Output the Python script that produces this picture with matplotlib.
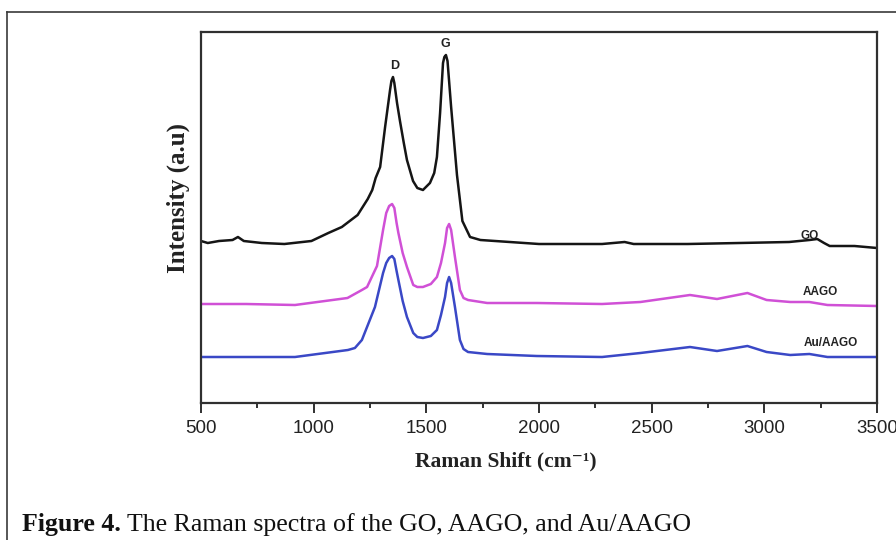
import matplotlib
matplotlib.use("Agg")
import matplotlib.pyplot as plt
from matplotlib.lines import Line2D
from matplotlib.ticker import MultipleLocator

# ---- data ----
go_x = [500, 530, 580, 640, 664, 690, 770, 870, 990, 1065, 1125, 1195, 1240, 1260, 1275, 1295,
        1317, 1339, 1345, 1352, 1358, 1370, 1383, 1400, 1414, 1441, 1460, 1485, 1516, 1535,
        1547, 1561, 1574, 1580, 1587, 1594, 1610, 1636, 1660, 1694, 1740, 2000, 2280, 2380,
        2420, 2660, 2890, 3110, 3200, 3235, 3265, 3290, 3400, 3500]
go_y = [162, 160, 162, 163, 166, 162, 160, 159, 162, 170, 176, 188, 204, 213, 225, 236,
        276, 313, 322, 326, 320, 300, 282, 260, 243, 222, 215, 213, 220, 230,
        246, 290, 340, 346, 348, 342, 296, 228, 182, 166, 163, 159, 159, 161,
        159, 159, 160, 161, 163, 164, 160, 157, 157, 155]

aago_x = [500, 700, 917, 1150, 1214, 1237, 1281, 1308, 1322, 1335, 1348, 1358, 1368, 1376,
          1395, 1414, 1442, 1460, 1485, 1520, 1547, 1565, 1583, 1592, 1601, 1610, 1627, 1649,
          1665, 1685, 1770, 1990, 2280, 2450, 2670, 2790, 2925, 3010, 3115, 3200, 3280, 3500]
aago_y = [99, 99, 98, 105, 113, 116, 137, 173, 190, 197, 199, 195, 180, 170,
          150, 136, 118, 116, 116, 119, 126, 140, 160, 175, 179, 173, 146, 113,
          105, 103, 100, 100, 99, 101, 108, 104, 110, 103, 101, 101, 98, 97]

au_x = [500, 700, 917, 1152, 1183, 1214, 1272, 1308, 1322, 1335, 1348, 1358, 1368, 1376,
        1395, 1414, 1442, 1460, 1485, 1520, 1547, 1565, 1583, 1592, 1601, 1610, 1627, 1649,
        1665, 1685, 1770, 1990, 2280, 2450, 2670, 2790, 2925, 3010, 3115, 3200, 3280, 3500]
au_y = [46, 46, 46, 53, 55, 63, 96, 130, 140, 145, 147, 144, 132, 123,
        102, 86, 70, 66, 65, 67, 73, 88, 106, 120, 126, 120, 96, 63,
        54, 51, 49, 47, 46, 50, 56, 52, 57, 51, 48, 49, 46, 46]

series = [("GO", go_x, go_y, "#151515"),
          ("AAGO", aago_x, aago_y, "#d050d6"),
          ("Au/AAGO", au_x, au_y, "#3a48c6")]

peak_labels = ["D", "G"]
peak_pos = [(1361, 336), (1583, 358)]
curve_labels = ["GO", "AAGO", "Au/AAGO"]
curve_label_pos = [(3202, 167), (3247, 111), (3296, 60)]

xticks = [500, 1000, 1500, 2000, 2500, 3000, 3500]

# ---- figure ----
W, H = 896, 540
fig = plt.figure(figsize=(W / 100, H / 100), dpi=100)
fig.patch.set_facecolor("white")

# outer frame of the figure panel
fig.add_artist(Line2D([7 / W, 7 / W], [0, 1 - 12 / H], transform=fig.transFigure,
                      color="#3a3a3a", lw=1.2))
fig.add_artist(Line2D([7 / W, 1], [1 - 12 / H, 1 - 12 / H], transform=fig.transFigure,
                      color="#3a3a3a", lw=1.2))

ax = fig.add_axes([201 / W, 1 - 403 / H, (877 - 201) / W, (403 - 32) / H])
for name, xs, ys, c in series:
    ax.plot(xs, ys, color=c, lw=1.8, solid_joinstyle="round")

ax.set_xlim(500, 3500)
ax.set_ylim(0, 371)
ax.set_xticks(xticks)
ax.set_xticklabels([str(t) for t in xticks])
ax.xaxis.set_minor_locator(MultipleLocator(250))
ax.set_yticks([])
for s in ax.spines.values():
    s.set_linewidth(1.6)
    s.set_color("#303030")
ax.tick_params(axis="x", which="major", direction="out", length=7, width=1.4,
               color="#303030", pad=5, labelsize=13.5)
ax.tick_params(axis="x", which="minor", direction="out", length=3.5, width=1.4,
               color="#303030")
for lab in ax.get_xticklabels():
    lab.set_fontfamily("Liberation Sans")
    lab.set_color("#222222")

ax.set_xlabel("Raman Shift (cm\u207b\u00b9)", fontfamily=["Liberation Serif", "DejaVu Serif"],
              fontweight="bold", fontsize=15.5, color="#222222", labelpad=7)
ax.xaxis.set_label_coords((506 - 201) / 676, -(461 - 403) / 371)
ax.xaxis.label.set_va("center")
ax.set_ylabel("Intensity (a.u)", fontfamily="Liberation Serif", fontweight="bold",
              fontsize=18, color="#222222")
ax.yaxis.set_label_coords(-(201 - 178) / 676, (403 - 198) / 371)
ax.yaxis.label.set_va("center")

for t, (x, y) in zip(peak_labels, peak_pos):
    ax.text(x, y - 5, t, ha="center", va="bottom", fontsize=9, fontweight="bold",
            fontfamily="Liberation Sans", color="#222222")
for t, (x, y) in zip(curve_labels, curve_label_pos):
    ax.text(x, y, t, ha="center", va="center", fontsize=8.5, fontweight="bold",
            fontfamily="Liberation Sans", color="#222222")

# caption
t1 = fig.text(22 / W, 1 - 531 / H, "Figure 4.", fontfamily="Liberation Serif",
              fontweight="bold", fontsize=18.6, color="#111111", va="baseline")
fig.canvas.draw()
ax.annotate(" The Raman spectra of the GO, AAGO, and Au/AAGO", xy=(1, 0), xycoords=t1,
            va="bottom", ha="left", fontfamily="Liberation Serif", fontsize=18.6,
            color="#111111", annotation_clip=False)

fig.savefig("out.png", dpi=100, facecolor="white")
